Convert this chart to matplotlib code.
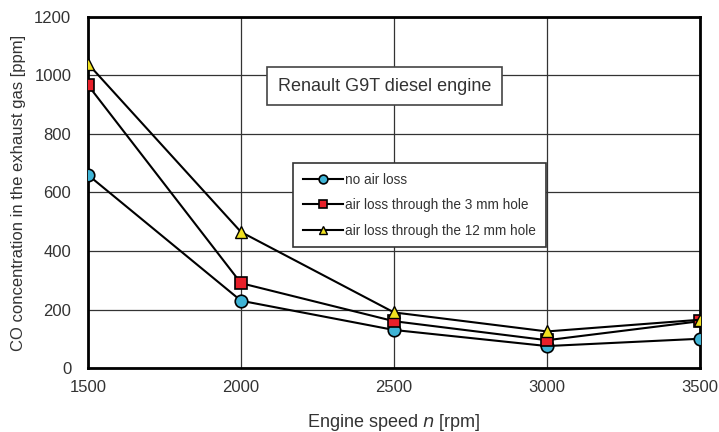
import matplotlib.pyplot as plt

# data
rpm = [1500, 2000, 2500, 3000, 3500]
co_no_loss = [660, 230, 130, 75, 100]
co_3mm = [967, 290, 160, 95, 160]
co_12mm = [1040, 465, 190, 125, 165]

plt.rcParams['font.family'] = ['Liberation Sans', 'DejaVu Sans']

fig = plt.figure(figsize=(7.19, 4.32), dpi=100)
ax = fig.add_axes([88/719, 1 - 368/432, (700-88)/719, (368-17)/432])

ax.plot(rpm, co_no_loss, color='black', lw=1.5, marker='o', ms=9,
        mfc='#3fb4d6', mec='black', mew=1.2, label='no air loss', zorder=5)
ax.plot(rpm, co_3mm, color='black', lw=1.5, marker='s', ms=9,
        mfc='#e8202a', mec='black', mew=1.2, label='air loss through the 3 mm hole', zorder=5)
ax.plot(rpm, co_12mm, color='black', lw=1.5, marker='^', ms=9,
        mfc='#f0e020', mec='black', mew=1.0, label='air loss through the 12 mm hole', zorder=5)

ax.set_xlim(1500, 3500)
ax.set_ylim(0, 1200)
ax.set_xticks(range(1500, 3501, 500))
ax.set_yticks(range(0, 1201, 200))
ax.grid(True, color='#333333', lw=0.9)
ax.tick_params(length=0, labelsize=12, colors='#333333')
ax.tick_params(axis='x', pad=9)
ax.tick_params(axis='y', pad=12)
for s in ax.spines.values():
    s.set_linewidth(2)

ax.set_xlabel('Engine speed $n$ [rpm]', fontsize=13, color='#333333', labelpad=12)
ax.set_ylabel('CO concentration in the exhaust gas [ppm]', fontsize=12, color='#333333', labelpad=6)

ax.text(0.31, 0.803, 'Renault G9T diesel engine', transform=ax.transAxes, fontsize=13,
        color='#333333', va='center',
        bbox=dict(boxstyle='square,pad=0.6', fc='white', ec='#444444', lw=1.2))

leg = ax.legend(loc='upper left', bbox_to_anchor=(0.335, 0.584), borderaxespad=0,
                fontsize=9.8, frameon=True, fancybox=False, edgecolor='#333333',
                framealpha=1, handlelength=3.0, handletextpad=0.15, markerscale=0.7,
                borderpad=0.7, labelspacing=0.85)
leg.get_frame().set_linewidth(1.2)
for t in leg.get_texts():
    t.set_color('#333333')

plt.savefig('out.png', dpi=100)
